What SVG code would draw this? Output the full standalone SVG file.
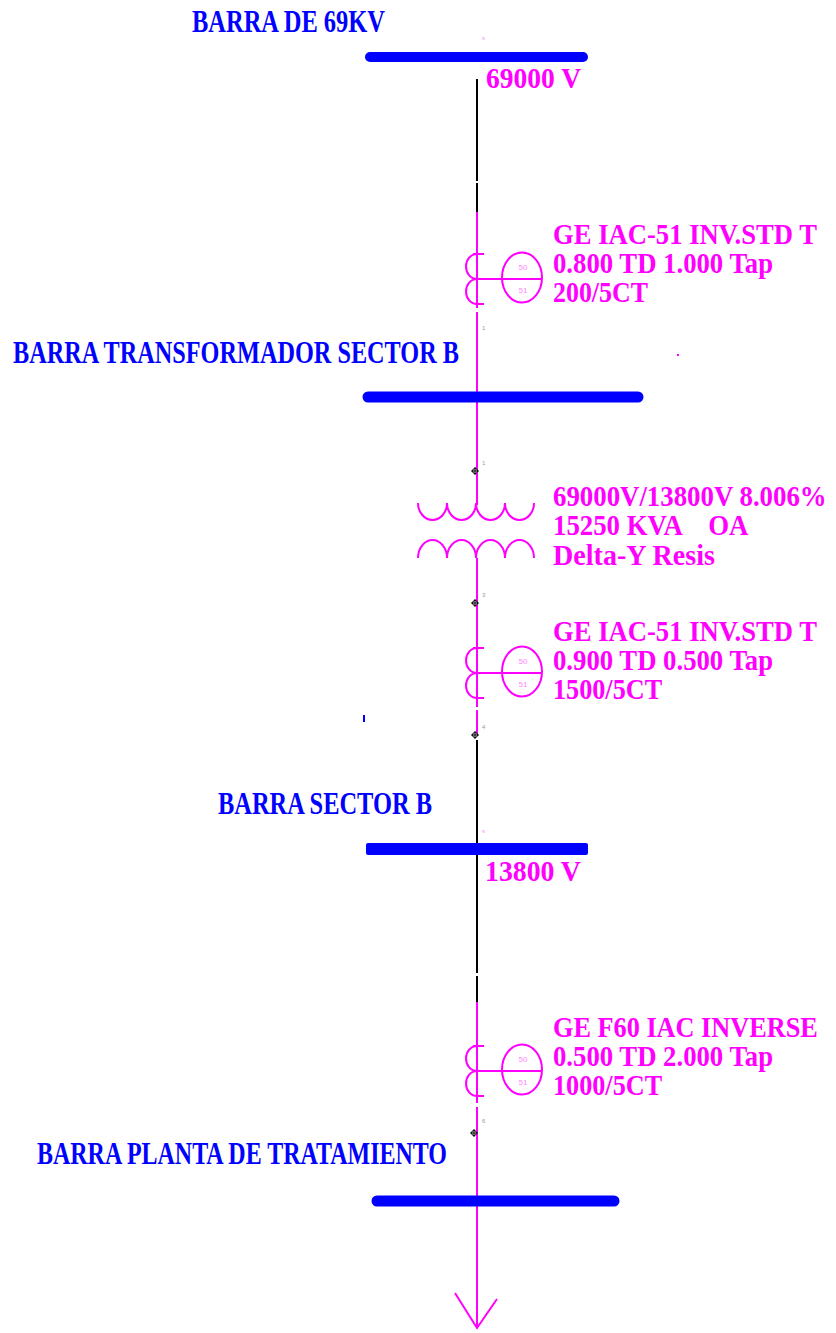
<svg xmlns="http://www.w3.org/2000/svg" width="836" height="1333" viewBox="0 0 836 1333">
<style>
.bus{stroke:#0000FF;stroke-linecap:round;fill:none}
.blbl{font-family:"Liberation Serif","Times New Roman",serif;font-weight:bold;font-size:31px;fill:#0000FF}
.mlbl{font-family:"Liberation Serif","Times New Roman",serif;font-weight:bold;font-size:29px;fill:#FF00FF}
.mg{stroke:#FF00FF;stroke-width:2;fill:none}
.bk{stroke:#000000;stroke-width:2;fill:none}
.relay{font-family:"Liberation Sans",Arial,sans-serif;font-size:8px;fill:#FF88FF;text-anchor:middle}
.tiny{font-family:"Liberation Sans",Arial,sans-serif;font-size:6px;fill:#999999}
.tinym{font-family:"Liberation Sans",Arial,sans-serif;font-size:6px;fill:#FF88FF}
.node{stroke:#000;stroke-width:1;fill:#fff}
</style>
<defs>
<g id="ctsym">
<path class="mg" d="M477,-25 A11,12.5 0 0 0 477,0 A11,12.5 0 0 0 477,25"/>
<path class="mg" d="M473,-25 H484 M477,25 H484"/>
<path class="mg" d="M477,0 H542"/>
<ellipse class="mg" cx="522" cy="-1.5" rx="20" ry="25"/>
<text class="relay" x="523" y="-9">50</text>
<text class="relay" x="523" y="14">51</text>
</g>
<g id="nodemark">
<circle class="node" cx="0" cy="0" r="2.5"/>
<path d="M-4,0 H4 M0,-4 V4" stroke="#000" stroke-width="1"/>
</g>
</defs>
<rect width="836" height="1333" fill="#ffffff"/>

<g id="connectors">
<path class="bk" d="M477,79 V181 M477,183 V212"/>
<path class="mg" d="M477,212 V308 M477,312 V471 M477,471 V505"/>
<path class="mg" d="M477,558 V603 M477,603 V707 M477,710 V735"/>
<path class="bk" d="M477,740 V973 M477,976 V1002"/>
<path class="mg" d="M477,1002 V1103 M477,1107 V1328"/>
<use href="#nodemark" x="475" y="471"/>
<use href="#nodemark" x="475" y="603"/>
<use href="#nodemark" x="475" y="735"/>
<use href="#nodemark" x="474" y="1133"/>
<text class="tinym" x="482" y="40">s</text>
<text class="tiny" x="482" y="330">1</text>
<text class="tiny" x="482" y="465">1</text>
<text class="tiny" x="482" y="597">3</text>
<text class="tiny" x="482" y="729">4</text>
<text class="tinym" x="482" y="833">s</text>
<text class="tiny" x="482" y="1123">6</text>
</g>

<g id="bus-69kv">
<line class="bus" x1="370" y1="57" x2="583" y2="57" stroke-width="10"/>
<text class="blbl" x="192" y="32" textLength="193" lengthAdjust="spacingAndGlyphs">BARRA DE 69KV</text>
<text class="mlbl" transform="translate(486,88) scale(0.88,1)" textLength="108" lengthAdjust="spacingAndGlyphs">69000 V</text>
</g>

<g id="ct1">
<use href="#ctsym" x="0" y="279"/>
<text class="mlbl" transform="translate(553,244) scale(0.88,1)" textLength="300" lengthAdjust="spacingAndGlyphs">GE IAC-51 INV.STD T</text>
<text class="mlbl" transform="translate(553,273) scale(0.88,1)" textLength="250" lengthAdjust="spacingAndGlyphs">0.800 TD 1.000 Tap</text>
<text class="mlbl" transform="translate(553,302) scale(0.88,1)" textLength="108" lengthAdjust="spacingAndGlyphs">200/5CT</text>
</g>

<g id="bus-transformador">
<line class="bus" x1="368" y1="397" x2="638" y2="397" stroke-width="11"/>
<text class="blbl" x="13" y="363" textLength="446" lengthAdjust="spacingAndGlyphs">BARRA TRANSFORMADOR SECTOR B</text>
<rect x="677" y="354" width="2" height="2" fill="#FF00FF"/>
</g>

<g id="transformer">
<path class="mg" d="M418,503 a14.5,17 0 0 0 29,0 a14.5,17 0 0 0 29,0 a14.5,17 0 0 0 29,0 a14.5,17 0 0 0 29,0"/>
<path class="mg" d="M418,558 a14.5,18 0 0 1 29,0 a14.5,18 0 0 1 29,0 a14.5,18 0 0 1 29,0 a14.5,18 0 0 1 29,0"/>
<text class="mlbl" transform="translate(553,506) scale(0.88,1)" textLength="311" lengthAdjust="spacingAndGlyphs">69000V/13800V 8.006%</text>
<text class="mlbl" transform="translate(553,535) scale(0.88,1)" textLength="222" lengthAdjust="spacingAndGlyphs" xml:space="preserve">15250 KVA    OA</text>
<text class="mlbl" transform="translate(553,565) scale(0.88,1)" textLength="184" lengthAdjust="spacingAndGlyphs">Delta-Y Resis</text>
</g>

<g id="ct2">
<use href="#ctsym" x="0" y="673"/>
<text class="mlbl" transform="translate(553,641) scale(0.88,1)" textLength="300" lengthAdjust="spacingAndGlyphs">GE IAC-51 INV.STD T</text>
<text class="mlbl" transform="translate(553,670) scale(0.88,1)" textLength="250" lengthAdjust="spacingAndGlyphs">0.900 TD 0.500 Tap</text>
<text class="mlbl" transform="translate(553,699) scale(0.88,1)" textLength="124" lengthAdjust="spacingAndGlyphs">1500/5CT</text>
<rect x="363" y="715" width="2" height="7" fill="#0000FF"/>
</g>

<g id="bus-sector-b">
<rect x="366" y="843" width="222" height="12" rx="2" fill="#0000FF"/>
<text class="blbl" x="218" y="814" textLength="214" lengthAdjust="spacingAndGlyphs">BARRA SECTOR B</text>
<text class="mlbl" transform="translate(485,881) scale(0.88,1)" textLength="109" lengthAdjust="spacingAndGlyphs">13800 V</text>
</g>

<g id="ct3">
<use href="#ctsym" x="0" y="1071"/>
<text class="mlbl" transform="translate(553,1037) scale(0.88,1)" textLength="301" lengthAdjust="spacingAndGlyphs">GE F60 IAC INVERSE</text>
<text class="mlbl" transform="translate(553,1066) scale(0.88,1)" textLength="250" lengthAdjust="spacingAndGlyphs">0.500 TD 2.000 Tap</text>
<text class="mlbl" transform="translate(553,1095) scale(0.88,1)" textLength="124" lengthAdjust="spacingAndGlyphs">1000/5CT</text>
</g>

<g id="bus-planta">
<line class="bus" x1="377" y1="1201" x2="614" y2="1201" stroke-width="11"/>
<text class="blbl" x="37" y="1164" textLength="410" lengthAdjust="spacingAndGlyphs">BARRA PLANTA DE TRATAMIENTO</text>
</g>

<g id="load-arrow">
<path class="mg" d="M455,1293 L477,1328 L497,1299"/>
</g>
</svg>
